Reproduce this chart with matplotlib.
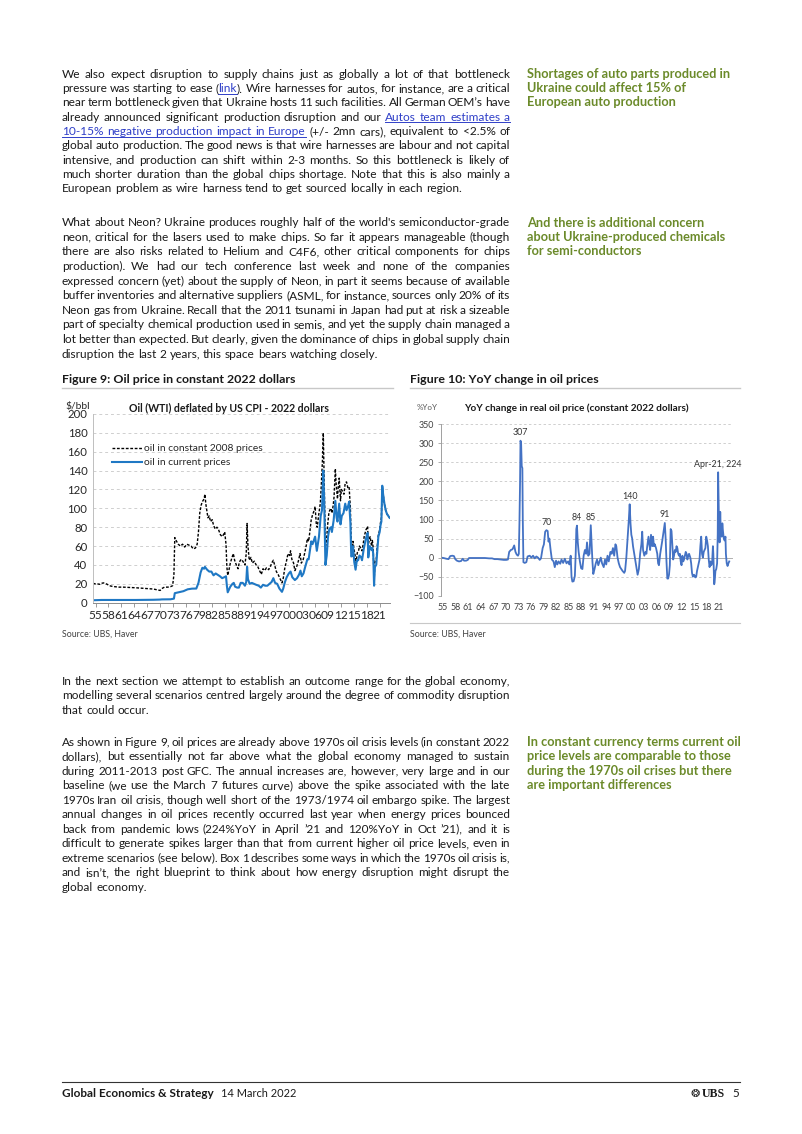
import matplotlib
matplotlib.use("Agg")
import matplotlib.pyplot as plt
from matplotlib import font_manager
from matplotlib.lines import Line2D

W, H = 802, 1134

# ---------------- chart data ----------------
# Figure 9: oil in constant prices (dashed black)
real_years = [1955.0, 1955.5, 1956.0, 1956.5, 1957.0, 1957.4, 1957.8, 1958.3, 1958.8, 1959.3,
              1960.0, 1961.0, 1962.0, 1963.0, 1964.0, 1965.0, 1966.0, 1967.0, 1968.0, 1969.0,
              1969.5, 1970.0, 1970.6, 1971.0, 1971.6, 1972.4, 1973.0, 1973.5, 1973.8, 1974.0,
              1974.3, 1974.8, 1975.3, 1975.8, 1976.3, 1976.8, 1977.3, 1977.8, 1978.3, 1978.8,
              1979.2, 1979.5, 1979.8, 1980.1, 1980.4, 1980.8, 1981.0, 1981.2, 1981.5, 1981.7,
              1982.0, 1982.3, 1982.7, 1983.0, 1983.4, 1983.8, 1984.2, 1984.6, 1985.0, 1985.3,
              1985.6, 1985.9, 1986.1, 1986.3, 1986.6, 1986.9, 1987.3, 1987.6, 1987.9, 1988.3,
              1988.7, 1989.0, 1989.4, 1989.8, 1990.3, 1990.6, 1990.8, 1991.0, 1991.3, 1991.7,
              1992.0, 1992.5, 1992.9, 1993.3, 1993.8, 1994.1, 1994.5, 1994.9, 1995.3, 1995.8,
              1996.2, 1996.5, 1996.9, 1997.2, 1997.6, 1998.0, 1998.4, 1998.9, 1999.2, 1999.6,
              1999.9, 2000.3, 2000.7, 2000.9, 2001.2, 2001.6, 2001.9, 2002.3, 2002.7, 2003.1,
              2003.4, 2003.8, 2004.2, 2004.6, 2004.8, 2005.1, 2005.4, 2005.7, 2006.0, 2006.4,
              2006.6, 2006.9, 2007.1, 2007.4, 2007.8, 2008.0, 2008.3, 2008.5, 2008.7, 2008.9,
              2009.0, 2009.2, 2009.5, 2009.8, 2010.0, 2010.3, 2010.5, 2010.8, 2011.0, 2011.3,
              2011.5, 2011.8, 2012.0, 2012.2, 2012.5, 2012.7, 2013.0, 2013.3, 2013.6, 2013.9,
              2014.2, 2014.5, 2014.8, 2015.0, 2015.2, 2015.4, 2015.7, 2015.9, 2016.1, 2016.4,
              2016.7, 2016.9, 2017.2, 2017.5, 2017.8, 2018.0, 2018.4, 2018.8, 2018.95, 2019.2,
              2019.4, 2019.7, 2019.9, 2020.1, 2020.3, 2020.5, 2020.8, 2021.0, 2021.3, 2021.6,
              2021.8, 2022.0, 2022.2, 2022.4, 2022.7, 2023.0, 2023.3, 2023.6, 2023.9]
real_price = [20.5, 20, 20, 19.5, 20.5, 21, 20.5, 19.5, 18, 17.5,
              17, 16.5, 16.5, 16.3, 16, 15.8, 15.5, 15.2, 14.8, 14.5,
              14, 13.5, 13, 15, 16.5, 16.5, 17, 18, 30, 69,
              66, 62, 60, 62, 59, 62, 61, 60, 57, 58,
              62, 75, 95, 103, 107, 110, 115, 105, 96, 90,
              92, 86, 88, 82, 78, 80, 77, 72, 70, 72,
              75, 62, 38, 29, 35, 42, 48, 52, 45, 40,
              36, 43, 46, 44, 40, 52, 84, 60, 45, 48,
              42, 44, 40, 38, 33, 30, 36, 34, 37, 35,
              38, 42, 45, 40, 33, 30, 26, 21, 26, 38,
              43, 52, 50, 55, 46, 42, 34, 38, 44, 52,
              42, 45, 53, 62, 68, 65, 76, 88, 93, 98,
              102, 82, 80, 92, 105, 121, 150, 180, 130, 80,
              60, 62, 82, 95, 98, 100, 95, 103, 112, 142,
              125, 110, 124, 132, 108, 120, 118, 115, 127, 128,
              122, 123, 100, 59, 51, 65, 55, 50, 42, 53,
              55, 60, 58, 55, 63, 70, 77, 81, 60, 68,
              70, 60, 66, 58, 21, 44, 45, 58, 72, 77,
              85, 90, 124, 115, 105, 98, 94, 92, 90]

# Figure 9: oil in current prices (blue)
nom_years = [1955.0, 1957.0, 1960.0, 1965.0, 1969.0, 1970.5, 1971.0, 1973.0, 1973.8, 1974.0,
             1975.0, 1976.0, 1977.0, 1978.0, 1979.0, 1979.5, 1980.0, 1980.4, 1980.8, 1981.0,
             1981.5, 1982.0, 1982.5, 1983.0, 1983.5, 1984.0, 1984.5, 1985.0, 1985.5, 1985.9,
             1986.1, 1986.3, 1986.6, 1986.9, 1987.4, 1987.7, 1988.0, 1988.5, 1988.9, 1989.3,
             1989.8, 1990.3, 1990.6, 1990.8, 1991.0, 1991.4, 1991.9, 1992.4, 1992.9, 1993.5,
             1994.0, 1994.5, 1995.0, 1995.5, 1996.0, 1996.5, 1996.9, 1997.3, 1997.8, 1998.3,
             1998.9, 1999.2, 1999.6, 2000.0, 2000.5, 2000.9, 2001.3, 2001.9, 2002.4, 2002.9,
             2003.2, 2003.5, 2003.9, 2004.3, 2004.8, 2005.1, 2005.7, 2006.0, 2006.6, 2007.0,
             2007.5, 2007.9, 2008.2, 2008.5, 2008.7, 2008.9, 2009.0, 2009.3, 2009.6, 2009.9,
             2010.3, 2010.5, 2010.9, 2011.3, 2011.6, 2011.8, 2012.2, 2012.5, 2012.8, 2013.2,
             2013.6, 2013.9, 2014.3, 2014.5, 2014.8, 2015.0, 2015.3, 2015.4, 2015.7, 2016.0,
             2016.3, 2016.6, 2016.9, 2017.3, 2017.5, 2017.9, 2018.4, 2018.8, 2018.95, 2019.3,
             2019.7, 2019.9, 2020.1, 2020.3, 2020.5, 2020.8, 2021.0, 2021.3, 2021.6, 2021.8,
             2022.0, 2022.2, 2022.4, 2022.7, 2023.0, 2023.3, 2023.6, 2023.9]
nom_price = [2.6, 2.9, 2.9, 2.9, 3.1, 3.3, 3.5, 3.6, 4.3, 10.1,
             11.2, 12.2, 14.2, 14.9, 15, 21, 32, 37, 36, 38,
             35, 33, 33, 29, 31, 29.5, 28, 26, 27, 28,
             18, 11, 14, 17, 20, 21, 17, 16, 16, 21,
             21, 18, 22, 38, 25, 20, 21, 20, 19, 18,
             16, 19, 18, 18, 20, 22, 26, 21, 20, 15,
             11.5, 15, 22, 27, 31, 33, 27, 24, 26, 30,
             34, 28, 31, 38, 46, 46, 65, 62, 70, 55,
             70, 92, 98, 140, 110, 60, 40, 50, 70, 78,
             80, 75, 87, 108, 90, 86, 105, 83, 92, 95,
             105, 98, 103, 107, 85, 49, 50, 60, 43, 35,
             45, 45, 50, 48, 45, 57, 68, 74, 48, 60,
             56, 58, 52, 18, 38, 40, 52, 70, 75, 82,
             86, 124, 115, 105, 98, 94, 92, 90]

# Figure 10: YoY change in real oil price
yoy_years = [1955.0, 1955.6, 1956.3, 1956.8, 1957.2, 1957.7, 1958.1, 1958.4, 1958.8, 1959.3,
             1959.8, 1960.2, 1960.5, 1961.0, 1961.4, 1961.7, 1962.5, 1963.5, 1964.5, 1965.5,
             1966.5, 1967.2, 1967.8, 1968.5, 1969.2, 1970.0, 1970.6, 1971.0, 1971.3, 1971.7,
             1972.1, 1972.5, 1972.8, 1973.1, 1973.4, 1973.6, 1973.75, 1973.9, 1974.0, 1974.15,
             1974.3, 1974.45, 1974.55, 1974.7, 1975.0, 1975.4, 1975.7, 1976.2, 1976.6, 1977.0,
             1977.4, 1977.8, 1978.2, 1978.6, 1978.9, 1979.3, 1979.6, 1979.9, 1980.2, 1980.5,
             1980.7, 1980.9, 1981.2, 1981.5, 1981.9, 1982.2, 1982.5, 1982.8, 1983.1, 1983.5,
             1983.8, 1984.2, 1984.6, 1985.0, 1985.4, 1985.7, 1986.0, 1986.2, 1986.4, 1986.7,
             1987.0, 1987.2, 1987.35, 1987.5, 1987.7, 1987.9, 1988.2, 1988.5, 1988.8, 1989.1,
             1989.4, 1989.7, 1989.9, 1990.2, 1990.5, 1990.8, 1991.0, 1991.2, 1991.4, 1991.7,
             1992.0, 1992.3, 1992.6, 1992.9, 1993.2, 1993.5, 1993.9, 1994.2, 1994.5, 1994.8,
             1995.1, 1995.5, 1995.8, 1996.1, 1996.4, 1996.7, 1996.9, 1997.2, 1997.5, 1997.8,
             1998.1, 1998.4, 1998.8, 1999.0, 1999.3, 1999.6, 1999.9, 2000.1, 2000.3, 2000.5,
             2000.7, 2000.9, 2001.2, 2001.5, 2001.8, 2002.0, 2002.3, 2002.6, 2002.9, 2003.1,
             2003.3, 2003.6, 2003.9, 2004.1, 2004.3, 2004.6, 2004.8, 2005.0, 2005.2, 2005.5,
             2005.7, 2005.9, 2006.1, 2006.4, 2006.7, 2006.9, 2007.1, 2007.4, 2007.7, 2007.9,
             2008.1, 2008.3, 2008.5, 2008.7, 2008.9, 2009.1, 2009.3, 2009.5, 2009.7, 2009.9,
             2010.1, 2010.3, 2010.5, 2010.7, 2010.9, 2011.1, 2011.3, 2011.5, 2011.7, 2011.9,
             2012.1, 2012.3, 2012.5, 2012.7, 2012.9, 2013.1, 2013.3, 2013.5, 2013.7, 2013.9,
             2014.1, 2014.3, 2014.6, 2014.8, 2015.0, 2015.2, 2015.5, 2015.8, 2016.0, 2016.2,
             2016.5, 2016.8, 2017.0, 2017.2, 2017.4, 2017.6, 2017.8, 2018.0, 2018.2, 2018.4,
             2018.6, 2018.8, 2019.0, 2019.2, 2019.4, 2019.6, 2019.8, 2020.0, 2020.1, 2020.3,
             2020.4, 2020.6, 2020.8, 2021.0, 2021.15, 2021.25, 2021.4, 2021.5, 2021.6, 2021.75,
             2021.9, 2022.1, 2022.25, 2022.4, 2022.6, 2022.8, 2023.0, 2023.1, 2023.3, 2023.5,
             2023.7, 2023.9]
yoy_change = [0, -1, -3, -4, 4, 5, 4, -4, -8, -10,
              -9, -3, -8, -8, -6, -1, -1, -1, -1, -1,
              -2, -2, -4, -4, -5, -6, -6, -5, 15, 20,
              22, 32, 15, 8, 5, 10, 90, 200, 307, 300,
              240, 235, 100, -12, -14, -12, 3, 5, 0, 5,
              -2, 3, 0, -6, -2, 25, 35, 68, 72, 70,
              42, 50, 20, -5, -10, -25, -8, -18, -10, -16,
              -5, -14, -3, -15, -10, -18, 5, -50, -63, -62,
              -48, 10, 75, 84, 40, 15, -10, -28, -30, 5,
              20, 10, 40, 5, 10, 85, 40, -10, -43, -30,
              -15, -5, -20, -10, 0, -15, -25, -5, -18, 5,
              -10, 15, 10, 25, 5, 35, 30, 0, -15, -25,
              -30, -35, -40, -35, 0, 50, 100, 140, 90, 60,
              50, 30, 10, -10, -30, -45, -30, 10, 35, 68,
              20, 5, 15, 10, 30, 55, 35, 20, 60, 30,
              55, 30, 35, 25, 10, -15, -20, 10, 30, 45,
              60, 75, 91, 50, -10, -55, -55, -45, -20, 75,
              70, 30, -5, 5, 20, 15, 30, 25, 10, 5,
              10, -10, -20, 5, -10, -5, 5, 15, 10, -5,
              5, 10, 0, -15, -40, -50, -45, -52, -50, -35,
              -20, -5, 30, 55, 10, 0, 15, 20, 25, 55,
              45, 30, -5, -25, -10, -20, -15, 30, 10, -70,
              -65, -35, -30, -15, 60, 224, 120, 60, 40, 120,
              60, 55, 90, 70, 50, 45, 55, 10, -15, -22,
              -15, -10]

# labelled peaks on Figure 10
peak_years = [1974.0, 1980.2, 1987.5, 1990.8, 2000.1, 2008.5, 2021.25]
peak_values = [307, 72, 84, 85, 140, 91, 224]
peak_texts = ["307", "70", "84", "85", "140", "91", "Apr-21, 224"]

tick_years = list(range(1955, 2022, 3))
tick_labels = [f"{y % 100:02d}" for y in tick_years]

# ---------------- page text ----------------
para1 = [
    "We also expect disruption to supply chains just as globally a lot of that bottleneck",
    "pressure was starting to ease ({link}). Wire harnesses for autos, for instance, are a critical",
    "near term bottleneck given that Ukraine hosts 11 such facilities. All German OEM\u2019s have",
    "already announced significant production disruption and our {Autos team estimates a}",
    "{10-15% negative production impact in Europe} (+/- 2mn cars), equivalent to <2.5% of",
    "global auto production. The good news is that wire harnesses are labour and not capital",
    "intensive, and production can shift within 2-3 months. So this bottleneck is likely of",
    "much shorter duration than the global chips shortage. Note that this is also mainly a",
    "European problem as wire harness tend to get sourced locally in each region.",
]
para2 = [
    "What about Neon? Ukraine produces roughly half of the world's semiconductor-grade",
    "neon, critical for the lasers used to make chips. So far it appears manageable (though",
    "there are also risks related to Helium and C4F6, other critical components for chips",
    "production). We had our tech conference last week and none of the companies",
    "expressed concern (yet) about the supply of Neon, in part it seems because of available",
    "buffer inventories and alternative suppliers (ASML, for instance, sources only 20% of its",
    "Neon gas from Ukraine. Recall that the 2011 tsunami in Japan had put at risk a sizeable",
    "part of specialty chemical production used in semis, and yet the supply chain managed a",
    "lot better than expected. But clearly, given the dominance of chips in global supply chain",
    "disruption the last 2 years, this space bears watching closely.",
]
para3 = [
    "In the next section we attempt to establish an outcome range for the global economy,",
    "modelling several scenarios centred largely around the degree of commodity disruption",
    "that could occur.",
]
para4 = [
    "As shown in Figure 9, oil prices are already above 1970s oil crisis levels (in constant 2022",
    "dollars), but essentially not far above what the global economy managed to sustain",
    "during 2011-2013 post GFC. The annual increases are, however, very large and in our",
    "baseline (we use the March 7 futures curve) above the spike associated with the late",
    "1970s Iran oil crisis, though well short of the 1973/1974 oil embargo spike. The largest",
    "annual changes in oil prices recently occurred last year when energy prices bounced",
    "back from pandemic lows (224%YoY in April \u201921 and 120%YoY in Oct \u201921), and it is",
    "difficult to generate spikes larger than that from current higher oil price levels, even in",
    "extreme scenarios (see below). Box 1 describes some ways in which the 1970s oil crisis is,",
    "and isn\u2019t, the right blueprint to think about how energy disruption might disrupt the",
    "global economy.",
]
side1 = ["Shortages of auto parts produced in", "Ukraine could affect 15% of", "European auto production"]
side2 = ["And there is additional concern", "about Ukraine-produced chemicals", "for semi-conductors"]
side3 = ["In constant currency terms current oil", "price levels are comparable to those",
         "during the 1970s oil crises but there", "are important differences"]


def has_font(name):
    try:
        font_manager.findfont(font_manager.FontProperties(family=name), fallback_to_default=False)
        return True
    except ValueError:
        return False


BODY_FONT = "Lato" if has_font("Lato") else "DejaVu Sans"
plt.rcParams["font.family"] = [BODY_FONT, "DejaVu Sans"]

TEXT = "#1a1a1a"
LINK = "#2f3fc8"
GREEN = "#6b8a2a"
BLUE1 = "#1f78c4"
BLUE2 = "#4472c4"
GRID = "#cfcfcf"

fig = plt.figure(figsize=(W / 100, H / 100), dpi=100)
renderer = fig.canvas.get_renderer()


def fx(px):
    return px / W


def fy(py):
    return 1 - py / H


def text_width(s, **kw):
    t = fig.text(0, 0, s, **kw)
    w = t.get_window_extent(renderer).width
    t.remove()
    return w


def fitted(s, target, **kw):
    # font size that makes s about target pixels wide
    return 10 * target / text_width(s, fontsize=10, **kw)


def parse_line(line):
    words, pieces, cur, link = [], [], "", False
    for ch in line + " ":
        if ch in "{} ":
            if cur:
                pieces.append((cur, link))
                cur = ""
            if ch == "{":
                link = True
            elif ch == "}":
                link = False
            elif pieces:
                words.append(pieces)
                pieces = []
        else:
            cur += ch
    return words


def hline(x0, x1, y, color, lw):
    fig.add_artist(Line2D([fx(x0), fx(x1)], [fy(y), fy(y)], color=color, lw=lw,
                          transform=fig.transFigure))


def para_size(lines, size, width, squeeze=0.72):
    # largest size (<= size) at which every justified line fits with spaces
    # squeezed to no less than `squeeze` of a normal space
    space = text_width("a a", fontsize=size) - text_width("aa", fontsize=size)
    worst = 0
    for l in lines[:-1]:
        words = l.replace("{", "").replace("}", "").split()
        need = sum(text_width(w, fontsize=size) for w in words) + squeeze * space * (len(words) - 1)
        worst = max(worst, need)
    return min(size, size * width / worst)


def paragraph(lines, x0, x1, y0, dy, size):
    kw = dict(fontsize=size)
    space = text_width("a a", **kw) - text_width("aa", **kw)
    for i, line in enumerate(lines):
        words = parse_line(line)
        widths = [[text_width(p, **kw) for p, _ in w] for w in words]
        total = sum(sum(ws) for ws in widths)
        last = i == len(lines) - 1
        gap = space if last else (x1 - x0 - total) / (len(words) - 1)
        base = y0 + i * dy + 3.7
        x = x0
        ul = None
        for j, (w, ws) in enumerate(zip(words, widths)):
            for (p, link), pw in zip(w, ws):
                fig.text(fx(x), fy(base), p, color=LINK if link else TEXT,
                         ha="left", va="baseline", **kw)
                if link and ul is None:
                    ul = x
                if not link and ul is not None:
                    hline(ul, x, base + 1.6, LINK, 0.7)
                    ul = None
                x += pw
            nxt_link = j + 1 < len(words) and words[j + 1][0][1]
            if ul is not None and not nxt_link:
                hline(ul, x, base + 1.6, LINK, 0.7)
                ul = None
            x += gap


SIDE_SIZE = fitted(side1[0], 204, fontweight="bold")


def sidebar(lines, x0, y0, dy):
    for i, line in enumerate(lines):
        fig.text(fx(x0), fy(y0 + i * dy + 3.8), line, color=GREEN, fontsize=SIDE_SIZE,
                 fontweight="bold", ha="left", va="baseline")


s12 = min(para_size(para1, 8.8, 448), para_size(para2, 8.8, 448))
paragraph(para1, 62, 510, 74, 14.3, s12)
paragraph(para2, 62, 510, 222.5, 14.6, s12)
s34 = min(para_size(para3, 8.8, 448), para_size(para4, 8.8, 448))
paragraph(para3, 62, 510, 681, 14.5, s34)
paragraph(para4, 62, 510, 742, 14.5, s34)
sidebar(side1, 527, 74, 14.3)
sidebar(side2, 527, 223, 14.3)
sidebar(side3, 527, 742, 14.5)

# figure headers and sources
FIG_SIZE = fitted("Figure 9: Oil price in constant 2022 dollars", 234, fontweight="bold")
fig.text(fx(62), fy(383), "Figure 9: Oil price in constant 2022 dollars", fontsize=FIG_SIZE,
         fontweight="bold", color=TEXT, ha="left", va="baseline")
fig.text(fx(410), fy(383), "Figure 10: YoY change in oil prices", fontsize=FIG_SIZE,
         fontweight="bold", color=TEXT, ha="left", va="baseline")
hline(62, 393, 387.5, "#c8c8c8", 1.0)
hline(410, 740, 387.5, "#c8c8c8", 1.0)
hline(410, 740, 623, "#c8c8c8", 0.8)
SRC_SIZE = fitted("Source: UBS, Haver", 76)
fig.text(fx(62), fy(637), "Source: UBS, Haver", fontsize=SRC_SIZE, color="#404040",
         ha="left", va="baseline")
fig.text(fx(410), fy(637), "Source: UBS, Haver", fontsize=SRC_SIZE, color="#404040",
         ha="left", va="baseline")

# ---------------- Figure 9 ----------------
ax1 = fig.add_axes([fx(93), fy(602.7), 297 / W, 188.7 / H])
ax1.plot(real_years, real_price, color="black", lw=1.0, ls=(0, (2.0, 1.2)),
         label="oil in constant 2008 prices")
ax1.plot(nom_years, nom_price, color=BLUE1, lw=1.5, label="oil in current prices")
ax1.set_xlim(1955, 2024)
ax1.set_ylim(0, 200)
ax1.set_yticks(range(0, 201, 20))
ax1.set_xticks([y + 0.6 for y in tick_years])
ax1.set_xticklabels(tick_labels)
ax1.tick_params(axis="y", length=0, pad=4, labelsize=8.2, labelcolor="#262626")
ax1.tick_params(axis="x", length=3, width=0.6, color="#8c8c8c", pad=2, labelsize=8.6,
                labelcolor="#262626")
ax1.grid(axis="y", color=GRID, lw=0.7, ls=(0, (3, 3)))
ax1.set_axisbelow(True)
for s in ["top", "right"]:
    ax1.spines[s].set_visible(False)
ax1.spines["left"].set_color("#bfbfbf")
ax1.spines["bottom"].set_color("#8c8c8c")
ax1.spines["left"].set_linewidth(0.7)
ax1.spines["bottom"].set_linewidth(0.7)
ax1.legend(loc="upper left", bbox_to_anchor=(0.065, 0.84), frameon=False, fontsize=7.4,
           handlelength=2.9, handletextpad=0.2, labelspacing=0.45, borderpad=0, borderaxespad=0,
           labelcolor="#262626")
T1 = "Oil (WTI) deflated by US CPI - 2022 dollars"
fig.text(fx(229), fy(408), T1, fontsize=fitted(T1, 202, fontweight="bold"),
         fontweight="bold", color=TEXT, ha="center", va="center")
fig.text(fx(65), fy(406), "$/bbl", fontsize=7.4, color="#262626", ha="left", va="center")

# ---------------- Figure 10 ----------------
ax2 = fig.add_axes([fx(441), fy(595.7), 292 / W, 171.4 / H])
ax2.plot(yoy_years, yoy_change, color=BLUE2, lw=1.3)
ax2.axhline(0, color="#b0b0b0", lw=0.7, zorder=1)
for px, pv, pt in zip(peak_years, peak_values, peak_texts):
    ax2.annotate(pt, (px, pv), xytext=(0, 2.5), textcoords="offset points", ha="center",
                 va="bottom", fontsize=6.4, color="#333333")
ax2.set_xlim(1955, 2024.8)
ax2.set_ylim(-100, 350)
ax2.set_yticks(range(-100, 351, 50))
ax2.set_xticks([y + 0.5 for y in tick_years])
ax2.set_xticklabels(tick_labels)
ax2.tick_params(axis="y", length=2, width=0.6, color="#a0a0a0", pad=3, labelsize=6.4,
                labelcolor="#404040")
ax2.tick_params(axis="x", length=0, pad=5, labelsize=6.4, labelcolor="#404040")
ax2.grid(axis="y", color=GRID, lw=0.7, ls=(0, (2.5, 2.5)))
ax2.set_axisbelow(True)
for s in ["top", "right", "bottom"]:
    ax2.spines[s].set_visible(False)
ax2.spines["left"].set_color("#a0a0a0")
ax2.spines["left"].set_linewidth(0.7)
T2 = "YoY change in real oil price (constant 2022 dollars)"
fig.text(fx(576), fy(408), T2, fontsize=fitted(T2, 225, fontweight="bold"),
         fontweight="bold", color=TEXT, ha="center", va="center")
fig.text(fx(417), fy(408), "%YoY", fontsize=5.8, color="#595959", ha="left", va="center")

# ---------------- footer ----------------
hline(62, 740, 1082, "#333333", 0.8)
F1 = "Global Economics & Strategy"
F2 = "14 March 2022"
fig.text(fx(62), fy(1097), F1, fontsize=fitted(F1, 152, fontweight="bold"), fontweight="bold",
         color=TEXT, ha="left", va="baseline")
fig.text(fx(221), fy(1097), F2, fontsize=fitted(F2, 75), color=TEXT, ha="left", va="baseline")
fig.text(fx(700), fy(1097), "\u2742", fontsize=8.0, family="DejaVu Sans", color=TEXT,
         ha="right", va="baseline")
fig.text(fx(702), fy(1097), "UBS", fontsize=fitted("UBS", 23, family="Liberation Serif",
         fontweight="bold"), family="Liberation Serif", fontweight="bold",
         color=TEXT, ha="left", va="baseline")
fig.text(fx(739), fy(1097), "5", fontsize=8.4, color=TEXT, ha="right", va="baseline")

fig.savefig("out.png", dpi=100)
